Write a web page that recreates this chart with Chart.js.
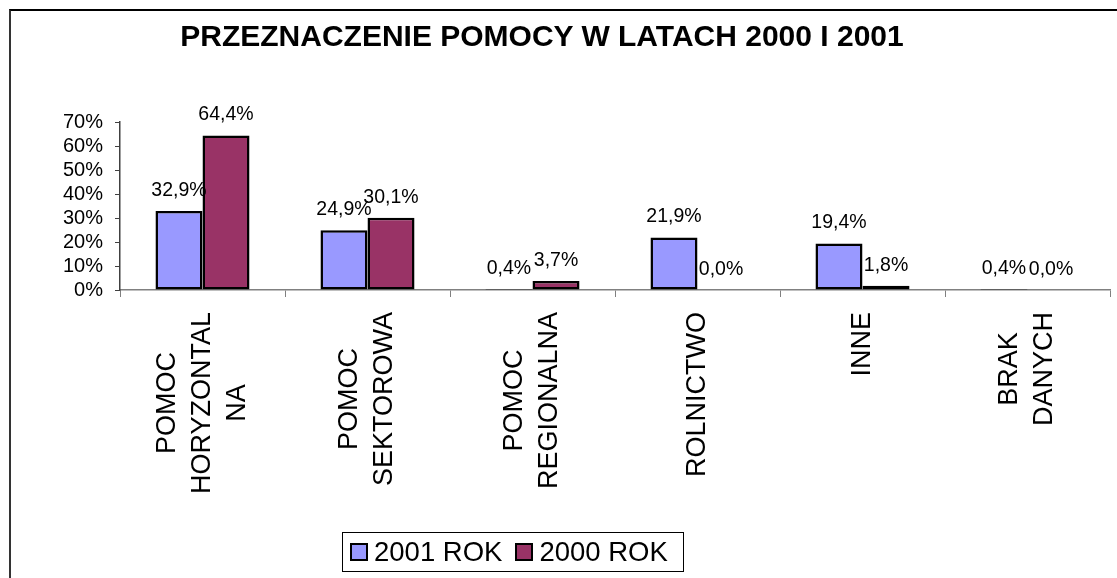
<!DOCTYPE html>
<html>
<head>
<meta charset="utf-8">
<script src="https://cdn.jsdelivr.net/npm/chart.js@4.4.1/dist/chart.umd.min.js"></script>
<style>
    html, body { margin: 0; padding: 0; background: #fff; overflow: hidden; }
    body { width: 1117px; height: 578px; position: relative; font-family: "Liberation Sans", Arial, sans-serif; }
    #frame { position: absolute; left: 9px; top: 9px; width: 1200px; height: 700px; border-left: 2px solid #333; border-top: 2px solid #000; }
    #chart { position: absolute; left: 0; top: 0; }
    #title { position: absolute; left: 0; top: 21px; width: 1084px; text-align: center; font-weight: bold; font-size: 30px; line-height: 30px; color: #000; }
    #legend { position: absolute; left: 342px; top: 532px; width: 342px; height: 40px; box-sizing: border-box; border: 1px solid #000; display: flex; align-items: center; padding-left: 7px; font-size: 27.5px; color: #000; }
    .item { display: flex; align-items: center; margin-right: 13px; }
    .swatch { width: 18px; height: 18px; box-sizing: border-box; border: 2px solid #000; margin-right: 6px; }
</style>
</head>
<body>
<div id="frame"></div>
<canvas id="chart" width="1117" height="578"></canvas>
<div id="title">PRZEZNACZENIE POMOCY W LATACH 2000 I 2001</div>
<div id="legend"></div>
<script>
// categories, wrapped the same way as in the original sheet
const categories = [
    ['POMOC', 'HORYZONTAL', 'NA'],
    ['POMOC', 'SEKTOROWA'],
    ['POMOC', 'REGIONALNA'],
    ['ROLNICTWO'],
    ['INNE'],
    ['BRAK', 'DANYCH']
]
const series_names = ['2001 ROK', '2000 ROK']
const values_2001 = [32.9, 24.9, 0.4, 21.9, 19.4, 0.4]
const values_2000 = [64.4, 30.1, 3.7, 0.0, 1.8, 0.0]
const y_max = 70
const y_step = 10

const series_colors = ['#9999ff', '#993366']
const font_family = '"Liberation Sans", Arial, sans-serif'

const pct = v => v.toFixed(1).replace('.', ',') + '%'

// value labels above every bar
const valueLabels = {
    id: 'valueLabels',
    afterDatasetsDraw(chart){
        const ctx = chart.ctx
        ctx.save()
        ctx.font = '19.5px ' + font_family
        ctx.fillStyle = '#000'
        ctx.textAlign = 'center'
        ctx.textBaseline = 'alphabetic'
        chart.data.datasets.forEach((ds, d) => {
            chart.getDatasetMeta(d).data.forEach((bar, i) => {
                ctx.fillText(pct(ds.data[i]), bar.x, bar.y - 15)
            })
        })
        ctx.restore()
    }
}

// vertical category labels, lines centred on each other, block hung from the top
const categoryLabels = {
    id: 'categoryLabels',
    afterDraw(chart){
        const ctx = chart.ctx
        const x = chart.scales.x
        const top = x.top + 22
        const line_h = 35
        ctx.save()
        ctx.font = '27px ' + font_family
        ctx.fillStyle = '#000'
        ctx.textAlign = 'center'
        ctx.textBaseline = 'middle'
        categories.forEach((lines, i) => {
            const w = Math.max(...lines.map(l => ctx.measureText(l).width))
            const cy = top + w / 2
            const cx = x.getPixelForTick(i)
            lines.forEach((line, j) => {
                ctx.save()
                ctx.translate(cx + (j - (lines.length - 1) / 2) * line_h, cy)
                ctx.rotate(-Math.PI / 2)
                ctx.fillText(line, 0, 0)
                ctx.restore()
            })
        })
        ctx.restore()
    }
}

const data = {
    labels: categories.map(c => c.join(' ')),
    datasets: [
        {label: series_names[0], data: values_2001, backgroundColor: series_colors[0]},
        {label: series_names[1], data: values_2000, backgroundColor: series_colors[1]}
    ].map(ds => Object.assign(ds, {
        borderColor: '#000',
        borderWidth: 2.5,
        borderSkipped: false,
        categoryPercentage: 0.57,
        barPercentage: 1.0,
        minBarLength: 0
    }))
}

const options = {
    responsive: false,
    animation: false,
    layout: {padding: {top: 122, right: 7, bottom: 0, left: 0}},
    plugins: {
        legend: {display: false},
        title: {display: false},
        tooltip: {enabled: false}
    },
    scales: {
        x: {
            grid: {offset: true, drawOnChartArea: false, color: '#808080', tickLength: 7},
            border: {color: '#808080', width: 1.5},
            ticks: {display: false},
            afterFit: s => { s.height = 288 }
        },
        y: {
            min: 0,
            max: y_max,
            grid: {drawOnChartArea: false, color: '#404040', tickLength: 5},
            border: {color: '#404040', width: 1.5},
            ticks: {
                stepSize: y_step,
                autoSkip: false,
                padding: 12,
                color: '#000',
                font: {family: font_family, size: 20},
                callback: v => v + '%'
            },
            afterFit: s => { s.width = 120 }
        }
    }
}

new Chart(document.querySelector('#chart'), {
    type: 'bar',
    data: data,
    options: options,
    plugins: [valueLabels, categoryLabels]
})

document.querySelector('#legend').innerHTML = series_names.map((name, i) => {
    return `<div class="item"><div class="swatch" style="background:${series_colors[i]}"></div>${name}</div>`
}).join('')
</script>
</body>
</html>
